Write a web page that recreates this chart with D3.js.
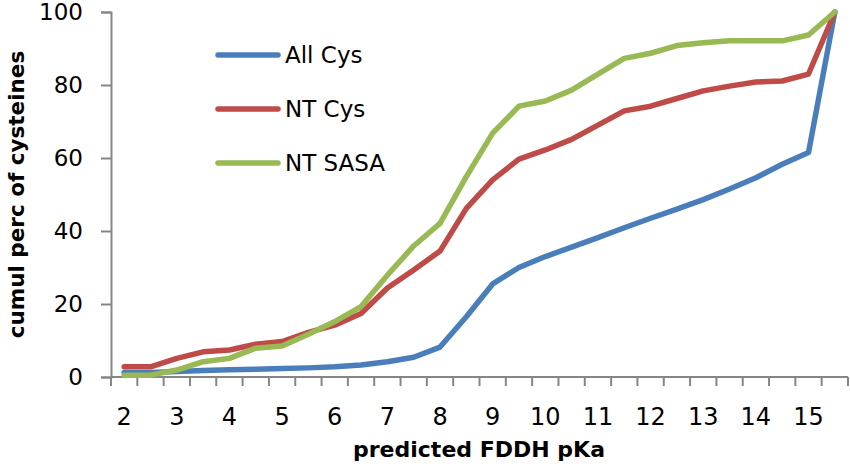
<!DOCTYPE html>
<meta charset="utf-8">

<!-- Load d3.js -->
<script src="https://d3js.org/d3.v7.min.js"></script>

<style>
  body { margin: 0; background: #fff; }
  text { font-family: "DejaVu Sans", sans-serif; fill: #000; }
</style>

<!-- Create a div where the graph will take place -->
<div id="my_dataviz"></div>

<script>

  // data
  var pka = ["2", "2.5", "3", "3.5", "4", "4.5", "5", "5.5", "6", "6.5", "7", "7.5", "8", "8.5",
             "9", "9.5", "10", "10.5", "11", "11.5", "12", "12.5", "13", "13.5", "14", "14.5", "15", "15.5"];
  var xLabels = ["2", "3", "4", "5", "6", "7", "8", "9", "10", "11", "12", "13", "14", "15"];
  var yTicks = [0, 20, 40, 60, 80, 100];

  var allCys = [1.2, 1.2, 1.5, 1.8, 2.0, 2.1, 2.3, 2.5, 2.8, 3.3, 4.2, 5.4, 8.2, 16.5,
                25.5, 30, 33, 35.6, 38.2, 40.9, 43.5, 46, 48.6, 51.5, 54.6, 58.3, 61.5, 100];
  var ntCys = [2.8, 2.8, 5.1, 6.9, 7.4, 9.0, 9.7, 12.2, 14.2, 17.4, 24.4, 29.3, 34.5, 46.2,
               54, 59.7, 62.2, 65.1, 69, 72.9, 74.2, 76.3, 78.4, 79.7, 80.8, 81.1, 83, 100];
  var ntSasa = [0.5, 0.5, 1.9, 4.2, 5.1, 7.9, 8.5, 11.7, 15.2, 19.3, 27.9, 35.9, 42.1, 54.9,
                66.8, 74.2, 75.6, 78.6, 83, 87.3, 88.7, 90.8, 91.6, 92.1, 92.1, 92.1, 93.7, 100];

  var seriesNames = ["All Cys", "NT Cys", "NT SASA"];
  var seriesColors = ["#4a7ebb", "#be4b48", "#98b954"];
  var seriesValues = [allCys, ntCys, ntSasa];

  // dimensions (plot area in pixels)
  var width = 850, height = 464;
  var plot = {left: 111, right: 848, top: 12, bottom: 377};
  var axisColor = "#868686";

  var svg = d3.select("#my_dataviz")
    .append("svg")
      .attr("width", width)
      .attr("height", height);

  // X scale: one band per category
  var x = d3.scaleBand()
    .domain(pka)
    .range([plot.left, plot.right])
    .padding(0);

  // Y scale
  var y = d3.scaleLinear()
    .domain([0, 100])
    .range([plot.bottom, plot.top]);

  // Y axis
  var yAxis = svg.append("g")
    .attr("transform", "translate(" + plot.left + ",0)")
    .call(d3.axisLeft(y).tickValues(yTicks).tickSize(10).tickPadding(18));
  yAxis.select(".domain").attr("stroke", axisColor).attr("stroke-width", 2);
  yAxis.selectAll(".tick line").attr("stroke", axisColor).attr("stroke-width", 2);
  yAxis.selectAll(".tick text")
    .style("font-size", "23px")
    .style("font-family", "DejaVu Sans")
    .attr("fill", "#000");

  // X axis line and ticks at category boundaries
  var xg = svg.append("g");
  xg.append("line")
    .attr("x1", plot.left).attr("x2", plot.right)
    .attr("y1", plot.bottom).attr("y2", plot.bottom)
    .attr("stroke", axisColor).attr("stroke-width", 2);
  var edges = pka.map(function(d) { return x(d); }).concat([x(pka[pka.length - 1]) + x.bandwidth()]);
  xg.selectAll(".xtick")
    .data(edges)
    .enter()
    .append("line")
      .attr("x1", function(d) { return d; })
      .attr("x2", function(d) { return d; })
      .attr("y1", plot.bottom)
      .attr("y2", plot.bottom + 9)
      .attr("stroke", axisColor).attr("stroke-width", 2);
  xg.selectAll(".xlabel")
    .data(xLabels)
    .enter()
    .append("text")
      .attr("x", function(d) { return x(d) + x.bandwidth() / 2; })
      .attr("y", 425)
      .attr("text-anchor", "middle")
      .style("font-size", "24px")
      .text(function(d) { return d; });

  // Axis titles
  svg.append("text")
    .attr("x", 479)
    .attr("y", 457)
    .attr("text-anchor", "middle")
    .style("font-size", "22px")
    .style("font-weight", "bold")
    .text("predicted FDDH pKa");

  svg.append("text")
    .attr("transform", "translate(24," + ((plot.top + plot.bottom) / 2) + ") rotate(-90)")
    .attr("text-anchor", "middle")
    .style("font-size", "21.5px")
    .style("font-weight", "bold")
    .text("cumul perc of cysteines");

  // Lines
  var line = d3.line()
    .x(function(d, i) { return x(pka[i]) + x.bandwidth() / 2; })
    .y(function(d) { return y(d); });

  svg.selectAll(".series")
    .data(seriesValues)
    .enter()
    .append("path")
      .attr("d", function(d) { return line(d); })
      .attr("stroke", function(d, i) { return seriesColors[i]; })
      .style("stroke-width", 5.5)
      .style("stroke-linejoin", "round")
      .style("stroke-linecap", "round")
      .style("fill", "none");

  // Legend
  var legend = svg.selectAll(".legend")
    .data(seriesNames)
    .enter()
    .append("g")
      .attr("transform", function(d, i) { return "translate(218," + (55 + i * 54) + ")"; });
  legend.append("line")
    .attr("x1", 0).attr("x2", 60)
    .attr("stroke", function(d, i) { return seriesColors[i]; })
    .style("stroke-width", 5.5)
    .style("stroke-linecap", "round");
  legend.append("text")
    .attr("x", 67)
    .attr("dy", "0.36em")
    .style("font-size", "23px")
    .text(function(d) { return d; });

</script>
